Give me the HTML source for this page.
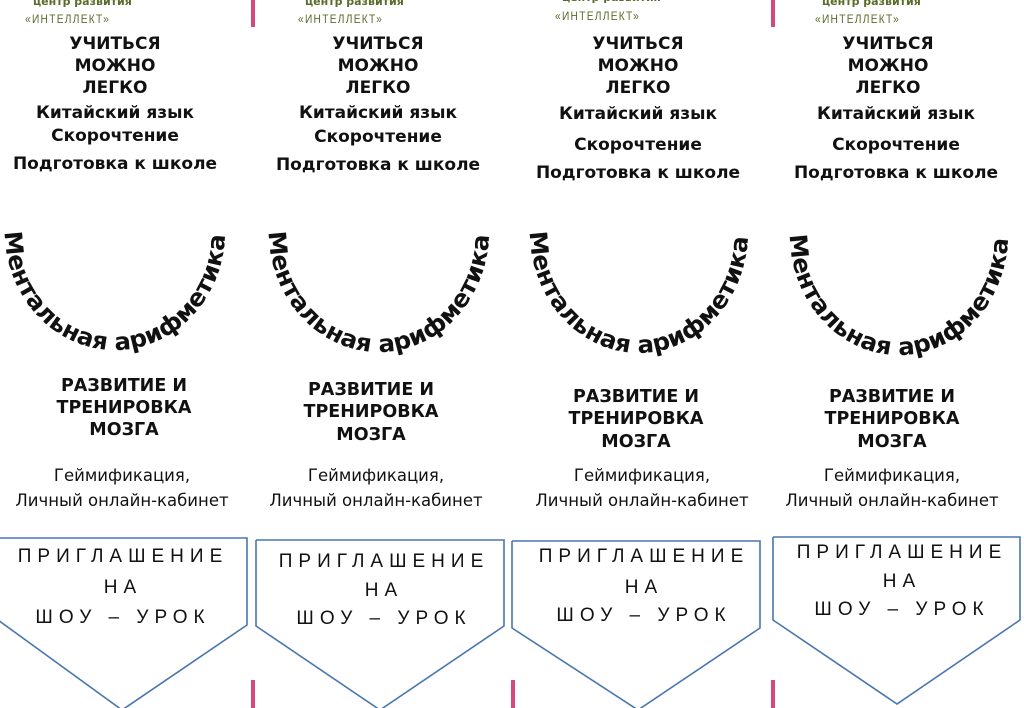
<!DOCTYPE html>
<html><head><meta charset="utf-8"><style>
body{margin:0;width:1024px;height:708px;overflow:hidden;background:#fff;position:relative;font-family:"DejaVu Sans","Liberation Sans",sans-serif;color:#111}
.t{position:absolute;width:300px;text-align:center;white-space:nowrap;line-height:22px}
.b{font-weight:bold;font-size:17px}
.h{font-weight:bold;font-size:17.5px}
.n{font-size:16.5px}
.p{font-family:"Liberation Sans",sans-serif;font-size:19px;letter-spacing:6px}
.l1{position:absolute;font-size:11px;color:#5a6b2a;font-weight:bold;white-space:nowrap}
.l2{position:absolute;font-size:12px;color:#5a6b2a;letter-spacing:1.5px;white-space:nowrap;font-family:"Liberation Sans Narrow","Liberation Sans",sans-serif;transform:scaleX(0.85);transform-origin:left}
.bar{position:absolute;width:4px;background:#d44a7e}
</style></head><body>
<div class="bar" style="left:251px;top:0;height:27px"></div>
<div class="bar" style="left:771px;top:0;height:27px"></div>
<div class="bar" style="left:251px;top:680px;height:28px"></div>
<div class="bar" style="left:511px;top:680px;height:28px"></div>
<div class="bar" style="left:771px;top:680px;height:28px"></div>

<svg width="1024" height="708" style="position:absolute;left:0;top:0">
<g fill="none" stroke="#4a76b0" stroke-width="1.6">
<polyline points="-2,538 247,538 247,625 122,710 -2,620"/>
<polyline points="256,540 504,540 504,626 380,710 256,626 256,540"/>
<polyline points="512,541 760,541 760,628 638,710 512,628 512,541"/>
<polyline points="773,537 1020,537 1020,620 897,704 773,620 773,537"/>
</g>
<defs>
<path id="a1" d="M5,232 A110,118 0 0 0 225,232"/>
<path id="a2" d="M269,232 A110,120 0 0 0 489,232"/>
<path id="a3" d="M530,232 A109,121 0 0 0 748,232"/>
<path id="a4" d="M790,235 A109,120 0 0 0 1008,235"/>
</defs>
<g font-family="DejaVu Sans,sans-serif" font-weight="bold" font-size="24" fill="#111">
<text><textPath href="#a1" textLength="355" lengthAdjust="spacingAndGlyphs">Ментальная арифметика</textPath></text>
<text><textPath href="#a2" textLength="358" lengthAdjust="spacingAndGlyphs">Ментальная арифметика</textPath></text>
<text><textPath href="#a3" textLength="356" lengthAdjust="spacingAndGlyphs">Ментальная арифметика</textPath></text>
<text><textPath href="#a4" textLength="356" lengthAdjust="spacingAndGlyphs">Ментальная арифметика</textPath></text>
</g>
</svg>

<!-- panel 1 -->
<div class="l1" style="left:33px;top:-5px">центр развития</div>
<div class="l2" style="left:25px;top:12px">«ИНТЕЛЛЕКТ»</div>
<div class="t b" style="left:-35px;top:33px">УЧИТЬСЯ</div>
<div class="t b" style="left:-35px;top:55px">МОЖНО</div>
<div class="t b" style="left:-35px;top:77px">ЛЕГКО</div>
<div class="t b" style="left:-35px;top:102px">Китайский язык</div>
<div class="t b" style="left:-35px;top:125px">Скорочтение</div>
<div class="t b" style="left:-35px;top:153px">Подготовка к школе</div>
<div class="t h" style="left:-26px;top:375px">РАЗВИТИЕ И</div>
<div class="t h" style="left:-26px;top:397px">ТРЕНИРОВКА</div>
<div class="t h" style="left:-26px;top:419px">МОЗГА</div>
<div class="t n" style="left:-28px;top:465px">Геймификация,</div>
<div class="t n" style="left:-28px;top:490px">Личный онлайн-кабинет</div>
<div class="t p" style="left:-27px;top:546px">ПРИГЛАШЕНИЕ</div>
<div class="t p" style="left:-27px;top:577px">НА</div>
<div class="t p" style="left:-27px;top:607px">ШОУ – УРОК</div>

<!-- panel 2 -->
<div class="l1" style="left:305px;top:-5px">центр развития</div>
<div class="l2" style="left:298px;top:12px">«ИНТЕЛЛЕКТ»</div>
<div class="t b" style="left:228px;top:33px">УЧИТЬСЯ</div>
<div class="t b" style="left:228px;top:55px">МОЖНО</div>
<div class="t b" style="left:228px;top:77px">ЛЕГКО</div>
<div class="t b" style="left:228px;top:102px">Китайский язык</div>
<div class="t b" style="left:228px;top:126px">Скорочтение</div>
<div class="t b" style="left:228px;top:154px">Подготовка к школе</div>
<div class="t h" style="left:221px;top:379px">РАЗВИТИЕ И</div>
<div class="t h" style="left:221px;top:401px">ТРЕНИРОВКА</div>
<div class="t h" style="left:221px;top:424px">МОЗГА</div>
<div class="t n" style="left:226px;top:465px">Геймификация,</div>
<div class="t n" style="left:226px;top:490px">Личный онлайн-кабинет</div>
<div class="t p" style="left:234px;top:551px">ПРИГЛАШЕНИЕ</div>
<div class="t p" style="left:234px;top:580px">НА</div>
<div class="t p" style="left:234px;top:608px">ШОУ – УРОК</div>

<!-- panel 3 -->
<div class="l1" style="left:562px;top:-9px">центр развития</div>
<div class="l2" style="left:555px;top:9px">«ИНТЕЛЛЕКТ»</div>
<div class="t b" style="left:488px;top:33px">УЧИТЬСЯ</div>
<div class="t b" style="left:488px;top:55px">МОЖНО</div>
<div class="t b" style="left:488px;top:77px">ЛЕГКО</div>
<div class="t b" style="left:488px;top:103px">Китайский язык</div>
<div class="t b" style="left:488px;top:134px">Скорочтение</div>
<div class="t b" style="left:488px;top:162px">Подготовка к школе</div>
<div class="t h" style="left:486px;top:386px">РАЗВИТИЕ И</div>
<div class="t h" style="left:486px;top:408px">ТРЕНИРОВКА</div>
<div class="t h" style="left:486px;top:431px">МОЗГА</div>
<div class="t n" style="left:492px;top:465px">Геймификация,</div>
<div class="t n" style="left:492px;top:490px">Личный онлайн-кабинет</div>
<div class="t p" style="left:494px;top:546px">ПРИГЛАШЕНИЕ</div>
<div class="t p" style="left:494px;top:577px">НА</div>
<div class="t p" style="left:494px;top:605px">ШОУ – УРОК</div>

<!-- panel 4 -->
<div class="l1" style="left:822px;top:-5px">центр развития</div>
<div class="l2" style="left:815px;top:12px">«ИНТЕЛЛЕКТ»</div>
<div class="t b" style="left:738px;top:33px">УЧИТЬСЯ</div>
<div class="t b" style="left:738px;top:55px">МОЖНО</div>
<div class="t b" style="left:738px;top:77px">ЛЕГКО</div>
<div class="t b" style="left:746px;top:103px">Китайский язык</div>
<div class="t b" style="left:746px;top:134px">Скорочтение</div>
<div class="t b" style="left:746px;top:162px">Подготовка к школе</div>
<div class="t h" style="left:742px;top:386px">РАЗВИТИЕ И</div>
<div class="t h" style="left:742px;top:408px">ТРЕНИРОВКА</div>
<div class="t h" style="left:742px;top:431px">МОЗГА</div>
<div class="t n" style="left:742px;top:465px">Геймификация,</div>
<div class="t n" style="left:742px;top:490px">Личный онлайн-кабинет</div>
<div class="t p" style="left:752px;top:542px">ПРИГЛАШЕНИЕ</div>
<div class="t p" style="left:752px;top:571px">НА</div>
<div class="t p" style="left:752px;top:599px">ШОУ – УРОК</div>
</body></html>
